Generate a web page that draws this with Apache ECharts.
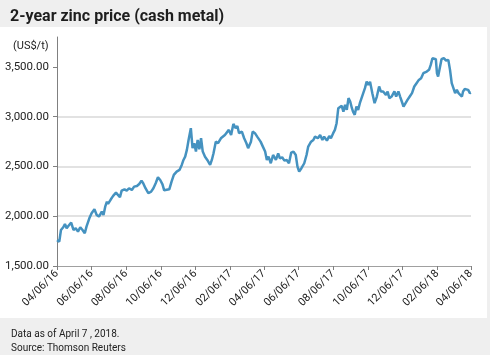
<!DOCTYPE html>
<html>
<head>
<meta charset="utf-8">
<script src="https://cdn.jsdelivr.net/npm/echarts@6/dist/echarts.min.js"></script>
<style>
html,body{margin:0;padding:0;background:#efefef;}
#chart{width:490px;height:355px;}
</style>
</head>
<body>
<div id="chart"></div>
<script>
var titleText = '2-year zinc price (cash metal)';
var unitText = '(US$/t)';
var noteText = 'Data as of April 7 , 2018.';
var sourceText = 'Source: Thomson Reuters';

var tickLabels = ['04/06/16','06/06/16','08/06/16','10/06/16','12/06/16','02/06/17','04/06/17',
  '06/06/17','08/06/17','10/06/17','12/06/17','02/06/18','04/06/18'];
var yTicks = [1500, 2000, 2500, 3000, 3500];

var dates = [
 '2016-04-06','2016-04-10','2016-04-13','2016-04-17','2016-04-20','2016-04-23','2016-04-26','2016-05-01',
 '2016-05-05','2016-05-09','2016-05-13','2016-05-17','2016-05-21','2016-05-25','2016-05-28','2016-06-02',
 '2016-06-06','2016-06-11','2016-06-15','2016-06-19','2016-06-24','2016-06-27','2016-06-30','2016-07-03',
 '2016-07-05','2016-07-10','2016-07-14','2016-07-19','2016-07-22','2016-07-26','2016-07-29','2016-08-03',
 '2016-08-07','2016-08-11','2016-08-16','2016-08-20','2016-08-25','2016-08-29','2016-09-02','2016-09-05',
 '2016-09-09','2016-09-14','2016-09-19','2016-09-23','2016-09-27','2016-10-01','2016-10-05','2016-10-09',
 '2016-10-12','2016-10-15','2016-10-21','2016-10-25','2016-10-29','2016-11-03','2016-11-08','2016-11-12',
 '2016-11-15','2016-11-18','2016-11-21','2016-11-24','2016-11-28','2016-12-01','2016-12-04','2016-12-07',
 '2016-12-10','2016-12-13','2016-12-16','2016-12-19','2016-12-23','2016-12-27','2017-01-01','2017-01-04',
 '2017-01-07','2017-01-11','2017-01-15','2017-01-20','2017-01-23','2017-01-27','2017-01-30','2017-02-03',
 '2017-02-07','2017-02-11','2017-02-15','2017-02-18','2017-02-21','2017-02-26','2017-03-02','2017-03-06',
 '2017-03-09','2017-03-14','2017-03-17','2017-03-21','2017-03-25','2017-03-28','2017-03-31','2017-04-04',
 '2017-04-08','2017-04-11','2017-04-14','2017-04-18','2017-04-22','2017-04-27','2017-05-01','2017-05-04',
 '2017-05-08','2017-05-12','2017-05-16','2017-05-20','2017-05-24','2017-05-28','2017-06-01','2017-06-04',
 '2017-06-07','2017-06-11','2017-06-16','2017-06-20','2017-06-23','2017-06-28','2017-07-02','2017-07-05',
 '2017-07-10','2017-07-14','2017-07-18','2017-07-21','2017-07-26','2017-07-30','2017-08-02','2017-08-06',
 '2017-08-09','2017-08-12','2017-08-15','2017-08-18','2017-08-21','2017-08-24','2017-08-27','2017-08-30',
 '2017-09-02','2017-09-05','2017-09-08','2017-09-10','2017-09-13','2017-09-16','2017-09-19','2017-09-22',
 '2017-09-25','2017-09-28','2017-10-01','2017-10-04','2017-10-07','2017-10-10','2017-10-14','2017-10-18',
 '2017-10-22','2017-10-26','2017-10-29','2017-11-02','2017-11-07','2017-11-10','2017-11-13','2017-11-17',
 '2017-11-22','2017-11-25','2017-11-29','2017-12-02','2017-12-05','2017-12-08','2017-12-11','2017-12-15',
 '2017-12-19','2017-12-23','2017-12-27','2017-12-31','2018-01-04','2018-01-08','2018-01-12','2018-01-15',
 '2018-01-18','2018-01-22','2018-01-25','2018-01-28','2018-01-31','2018-02-03','2018-02-05','2018-02-07',
 '2018-02-10','2018-02-13','2018-02-17','2018-02-21','2018-02-25','2018-02-28','2018-03-03','2018-03-06',
 '2018-03-09','2018-03-12','2018-03-15','2018-03-18','2018-03-21','2018-03-23','2018-03-26','2018-03-29',
 '2018-04-01','2018-04-04','2018-04-06'
];

var prices = [
 1760,1745,1862,1889,1922,1879,1902,1935,
 1862,1879,1845,1889,1862,1829,1895,1979,
 2030,2070,2013,1996,2046,2013,2096,2146,
 2123,2170,2204,2237,2247,2190,2257,2270,
 2257,2281,2264,2297,2304,2324,2357,2331,
 2281,2231,2247,2281,2331,2391,2364,2320,
 2260,2247,2270,2347,2415,2448,2465,2515,
 2565,2598,2666,2766,2884,2683,2733,2649,
 2766,2673,2783,2649,2598,2565,2515,2565,
 2632,2749,2733,2783,2766,2816,2799,2867,
 2816,2927,2884,2907,2834,2850,2783,2733,
 2683,2749,2850,2834,2799,2816,2749,2699,
 2649,2565,2598,2532,2615,2565,2632,2582,
 2592,2558,2565,2532,2639,2649,2615,2498,
 2448,2482,2532,2615,2699,2749,2766,2799,
 2783,2816,2766,2799,2759,2806,2783,2834,
 2867,2934,3085,3101,3108,3051,3118,3068,
 3186,3152,3085,3051,3018,3101,3068,3135,
 3152,3236,3286,3353,3319,3350,3236,3135,
 3202,3303,3253,3253,3219,3253,3186,3202,
 3253,3202,3253,3202,3152,3101,3118,3168,
 3202,3236,3303,3336,3369,3386,3436,3420,
 3453,3470,3520,3587,3597,3577,3436,3403,
 3420,3577,3587,3564,3570,3470,3336,3286,
 3236,3269,3236,3253,3202,3253,3277,3264,
 3269,3236,3240
];

function toTime(iso) {
  var p = iso.split('-');
  return Date.UTC(+p[0], +p[1] - 1, +p[2]);
}
function labelToTime(s) {
  var p = s.split('/');
  return Date.UTC(2000 + (+p[2]), +p[0] - 1, +p[1]);
}
var tickTimes = tickLabels.map(labelToTime);
var seriesData = dates.map(function (d, i) { return [toTime(d), prices[i]]; });

function fmtMoney(v) {
  var s = Number(v).toFixed(2).split('.');
  return s[0].replace(/\B(?=(\d{3})+(?!\d))/g, ',') + '.' + s[1];
}
function fmtDate(v) {
  var best = -1, bd = Infinity;
  for (var i = 0; i < tickTimes.length; i++) {
    var d = Math.abs(tickTimes[i] - v);
    if (d < bd) { bd = d; best = i; }
  }
  return bd < 43200000 ? tickLabels[best] : '';
}

var FONT = 'Roboto';
var chart = echarts.init(document.getElementById('chart'), null, {renderer: 'canvas'});
chart.setOption({
  backgroundColor: '#efefef',
  animation: false,
  graphic: [{
    type: 'rect', left: 0, top: 27, z: -10,
    shape: {width: 487, height: 291},
    style: {fill: '#ffffff'}
  }],
  title: [
    {text: titleText, left: 5, top: 4,
     textStyle: {fontFamily: FONT, fontSize: 16, fontWeight: 'bold', color: '#1e1e1e'}},
    {text: unitText, left: 8, top: 36,
     textStyle: {fontFamily: FONT, fontSize: 11, fontWeight: 'normal', color: '#222'}},
    {text: noteText, left: 6, top: 324,
     textStyle: {fontFamily: FONT, fontSize: 10, fontWeight: 'normal', color: '#222'}},
    {text: sourceText, left: 6, top: 338,
     textStyle: {fontFamily: FONT, fontSize: 10, fontWeight: 'normal', color: '#222'}}
  ],
  grid: {left: 57, right: 19, top: 37, bottom: 89, containLabel: false},
  xAxis: {
    type: 'value',
    min: tickTimes[0],
    max: tickTimes[tickTimes.length - 1],
    axisLine: {show: true, lineStyle: {color: '#a0a0a0', width: 1}},
    axisTick: {show: true, length: 4, customValues: tickTimes, lineStyle: {color: '#808080'}},
    axisLabel: {
      customValues: tickTimes,
      formatter: fmtDate,
      rotate: 45,
      margin: 6,
      fontFamily: FONT, fontSize: 11, color: '#222'
    },
    splitLine: {show: false}
  },
  yAxis: {
    type: 'value',
    min: 1500, max: 3800, interval: 500,
    axisLine: {show: true, lineStyle: {color: '#808080', width: 1}},
    axisTick: {show: true, length: 4, customValues: yTicks, lineStyle: {color: '#808080'}},
    axisLabel: {
      customValues: yTicks,
      formatter: fmtMoney,
      margin: 8,
      fontFamily: FONT, fontSize: 11.5, color: '#222'
    },
    splitLine: {show: true, showMaxLine: false, showMinLine: false,
      lineStyle: {color: '#d9d9d9', width: 1.5}}
  },
  series: [{
    type: 'line',
    data: seriesData,
    showSymbol: false,
    symbol: 'none',
    lineStyle: {color: '#4592c0', width: 2.5},
    z: 5
  }]
});
</script>
</body>
</html>
